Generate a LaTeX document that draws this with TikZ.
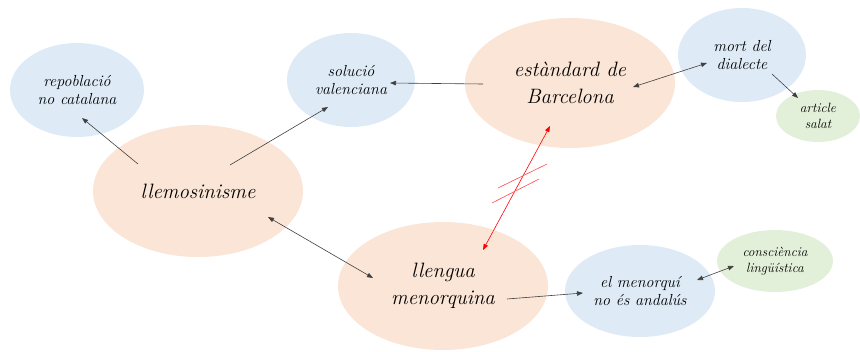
\documentclass[tikz,border=0pt]{standalone}
\usetikzlibrary{shapes.geometric,arrows.meta}
\definecolor{peach}{HTML}{FBE5D6}
\definecolor{lblue}{HTML}{DEEBF7}
\definecolor{lgreen}{HTML}{E2F0D9}
\begin{document}
\begin{tikzpicture}[x=1pt,y=-1pt,
  bub/.style={ellipse,inner sep=0pt,align=center},
  big/.style={bub,fill=peach,font=\rmfamily\fontsize{20.8}{26.5}\selectfont\itshape},
  mid/.style={bub,fill=lblue,font=\rmfamily\fontsize{16}{18}\selectfont\itshape},
  sml/.style={bub,fill=lgreen,font=\rmfamily\fontsize{13.4}{16}\selectfont\itshape},
  conn/.style={draw=black!75,line width=0.6pt,-{Triangle[length=6pt,width=4.5pt]}},
  conn2/.style={conn,{Triangle[length=6pt,width=4.5pt]}-{Triangle[length=6pt,width=4.5pt]}},
  redc/.style={draw=red,line width=0.6pt,{Triangle[length=6pt,width=4.5pt]}-{Triangle[length=6pt,width=4.5pt]}},
  redbar/.style={draw=red!70,line width=0.6pt}]
\useasboundingbox (0,0) rectangle (860,351);
\node[mid,minimum width=134pt,minimum height=94pt] (rep) at (77,90) {repoblació\\no catalana};
\node[big,minimum width=210pt,minimum height=132pt] (llem) at (198,191) {llemosinisme};
\node[mid,minimum width=128pt,minimum height=94pt] (sol) at (351,80) {solució\\valenciana};
\node[big,minimum width=210pt,minimum height=130pt] (est) at (570,83) {estàndard de\\Barcelona};
\node[mid,minimum width=128pt,minimum height=94pt] (mort) at (742,55) {mort del\\dialecte};
\node[sml,minimum width=84pt,minimum height=52pt] (art) at (818,116) {article\\salat};
\node[big,minimum width=210pt,minimum height=128pt] (llen) at (443,286) {llengua\\menorquina};
\node[mid,minimum width=150pt,minimum height=92pt] (men) at (640,291) {el menorquí\\no és andalús};
\node[sml,minimum width=116pt,minimum height=62pt] (cons) at (775,261) {consciència\\lingüística};
% connector end points
\coordinate (llemA) at (138,164);
\coordinate (repA) at (82,118);
\coordinate (llemB) at (230,165);
\coordinate (solB) at (328,107);
\coordinate (estC) at (483,84);
\coordinate (solC) at (390,83);
\coordinate (estD) at (633,87);
\coordinate (mortD) at (707,63);
\coordinate (mortE) at (772,74);
\coordinate (artE) at (798,98);
\coordinate (llemF) at (268,217);
\coordinate (llenF) at (373,278);
\coordinate (llenG) at (483,250);
\coordinate (estG) at (550,126);
\coordinate (llenH) at (507,299);
\coordinate (menH) at (583,293);
\coordinate (menI) at (697,280);
\coordinate (consI) at (734,266);
\coordinate (b1a) at (498,188);
\coordinate (b1b) at (547,164);
\coordinate (b2a) at (492,203);
\coordinate (b2b) at (539,179);
\draw[conn] (llemA) -- (repA);
\draw[conn] (llemB) -- (solB);
\draw[conn] (estC) -- (solC);
\draw[conn2] (estD) -- (mortD);
\draw[conn] (mortE) -- (artE);
\draw[conn2] (llemF) -- (llenF);
\draw[redc] (llenG) -- (estG);
\draw[redbar] (b1a) -- (b1b);
\draw[redbar] (b2a) -- (b2b);
\draw[conn] (llenH) -- (menH);
\draw[conn2] (menI) -- (consI);
\end{tikzpicture}
\end{document}
